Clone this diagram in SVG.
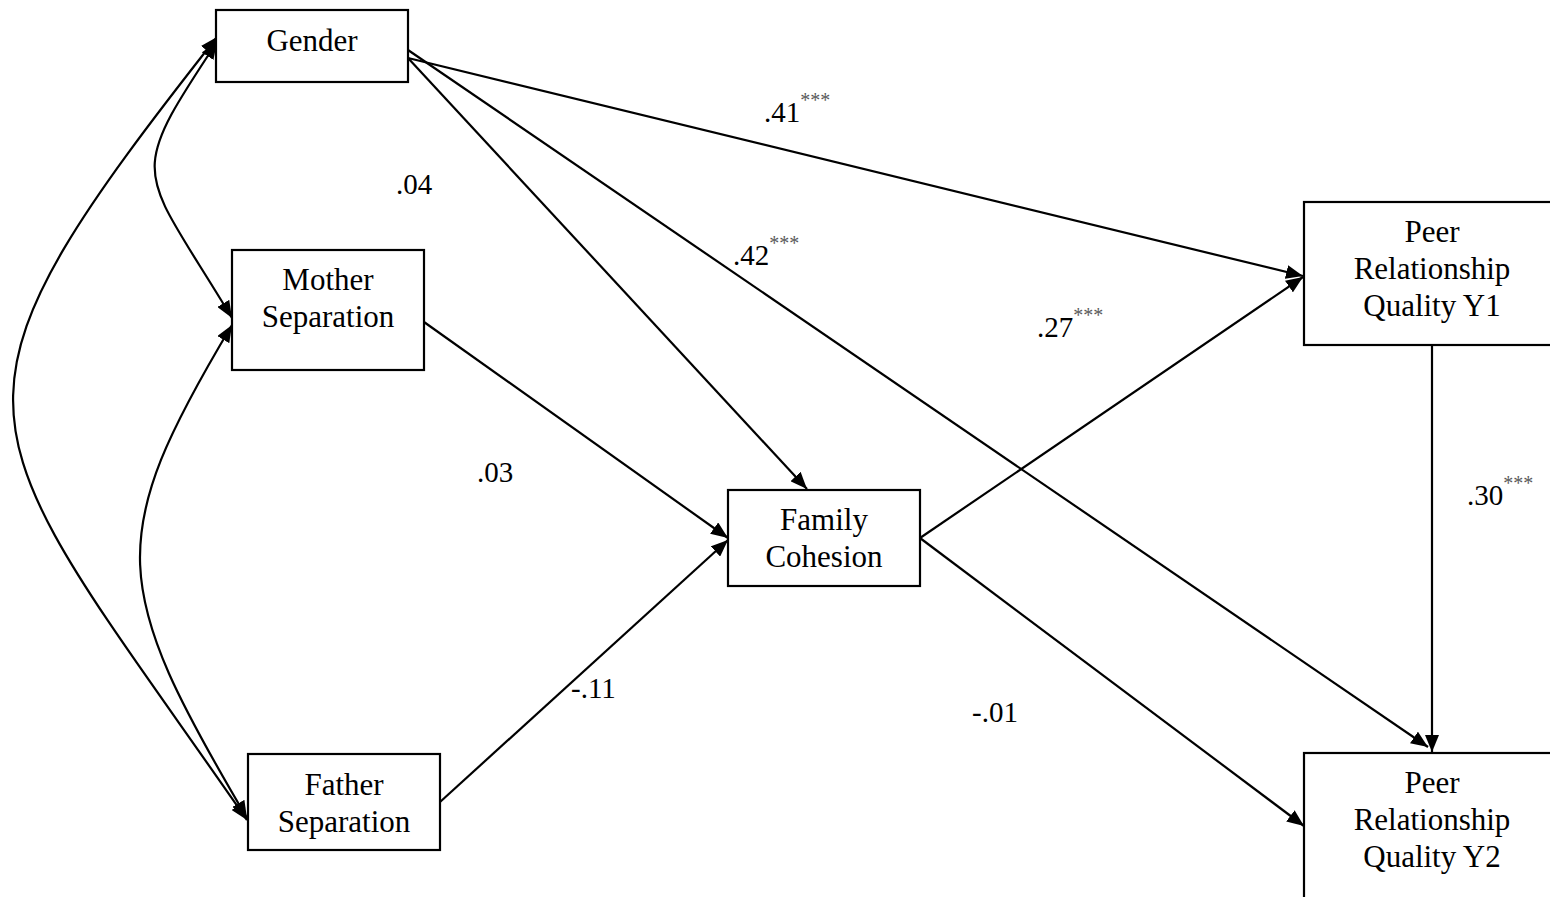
<svg xmlns="http://www.w3.org/2000/svg" width="1550" height="897" viewBox="0 0 1550 897">
<style>
.box{fill:#fff;stroke:#000;stroke-width:2.2}
.t{font-family:"Liberation Serif","Times New Roman",serif;font-size:31px;fill:#000;text-anchor:middle}
.l{font-family:"Liberation Serif","Times New Roman",serif;font-size:29px;fill:#000}
.s{font-size:20px;fill:#5a5a5a}
.c{fill:none;stroke:#000;stroke-width:2.2}
</style>
<defs>
<marker id="ah" markerUnits="userSpaceOnUse" markerWidth="18" markerHeight="14" refX="17" refY="7" orient="auto-start-reverse">
<path d="M0,0 L17,7 L0,14 z" fill="#000"/>
</marker>
</defs>
<g id="connectors">
<path class="c" d="M408,58 L1303,276" marker-end="url(#ah)"/>
<path class="c" d="M408,50 L1428,747" marker-end="url(#ah)"/>
<path class="c" d="M408,58 L807,489" marker-end="url(#ah)"/>
<path class="c" d="M424,322 L728,538" marker-end="url(#ah)"/>
<path class="c" d="M440,802 L728,540" marker-end="url(#ah)"/>
<path class="c" d="M920,538 L1303,277" marker-end="url(#ah)"/>
<path class="c" d="M920,538 L1304,826" marker-end="url(#ah)"/>
<path class="c" d="M1432,345 L1432,752" marker-end="url(#ah)"/>
<path class="c" d="M217,37 C-84,419 -33,416 247,820" marker-start="url(#ah)" marker-end="url(#ah)"/>
<path class="c" d="M217,42 C124,182 140,165 232,318" marker-start="url(#ah)" marker-end="url(#ah)"/>
<path class="c" d="M232,325 C104,539 110,586 247,818" marker-start="url(#ah)" marker-end="url(#ah)"/>
</g>
<g id="gender"><rect class="box" x="216" y="10" width="192" height="72"/><text class="t" x="312" y="51">Gender</text></g>
<g id="mother"><rect class="box" x="232" y="250" width="192" height="120"/><text class="t" x="328" y="290">Mother</text><text class="t" x="328" y="327">Separation</text></g>
<g id="father"><rect class="box" x="248" y="754" width="192" height="96"/><text class="t" x="344" y="795">Father</text><text class="t" x="344" y="832">Separation</text></g>
<g id="family"><rect class="box" x="728" y="490" width="192" height="96"/><text class="t" x="824" y="530">Family</text><text class="t" x="824" y="567">Cohesion</text></g>
<g id="peer1"><rect class="box" x="1304" y="202" width="260" height="143"/><text class="t" x="1432" y="242">Peer</text><text class="t" x="1432" y="279">Relationship</text><text class="t" x="1432" y="316">Quality Y1</text></g>
<g id="peer2"><rect class="box" x="1304" y="753" width="260" height="160"/><text class="t" x="1432" y="793">Peer</text><text class="t" x="1432" y="830">Relationship</text><text class="t" x="1432" y="867">Quality Y2</text></g>
<g id="labels">
<text class="l" x="764" y="122">.41<tspan class="s" dy="-15">***</tspan></text>
<text class="l" x="733" y="265">.42<tspan class="s" dy="-15">***</tspan></text>
<text class="l" x="1037" y="337">.27<tspan class="s" dy="-15">***</tspan></text>
<text class="l" x="1467" y="505">.30<tspan class="s" dy="-15">***</tspan></text>
<text class="l" x="396" y="194">.04</text>
<text class="l" x="477" y="482">.03</text>
<text class="l" x="571" y="698">-.11</text>
<text class="l" x="972" y="722">-.01</text>
</g>
</svg>
